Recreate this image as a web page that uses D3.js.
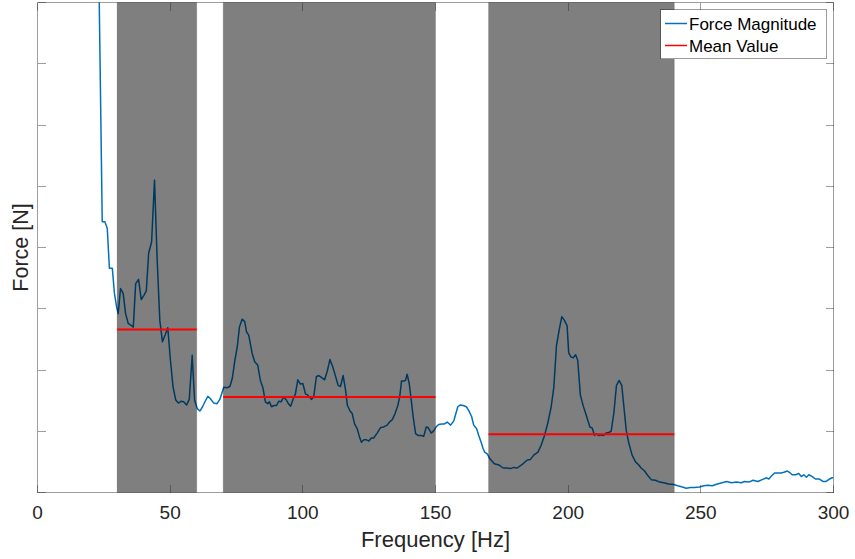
<!DOCTYPE html>
<html>
<head>
<meta charset="utf-8">
<script src="https://cdn.jsdelivr.net/npm/d3@7"></script>
<style>
	body { margin: 0; background: #fff; }
	svg { display: block; font-family: 'Liberation Sans', Arial, sans-serif; }
</style>
</head>
<body>
<svg id="chart" width="855" height="559"></svg>
<script>
'use strict';

// spectrum (Hz, N)
const freq = [22.8,
	24.4, 25.4, 26.3, 27.1, 28.2, 29.0, 29.8, 30.4, 31.3, 32.3,
	33.2, 34.2, 35.3, 36.1, 37.0, 38.1, 39.1, 40.1, 41.0, 41.9,
	43.0, 44.1, 45.1, 46.1, 47.1, 48.1, 49.1, 50.1, 51.1, 52.1,
	53.1, 54.2, 55.1, 56.2, 57.2, 58.3, 59.2, 60.2, 61.2, 62.2,
	63.2, 64.2, 65.2, 66.4, 67.7, 68.7,
	70.2, 71.5, 72.5, 73.4, 74.4, 75.3, 76.1, 77.1, 78.1, 78.8,
	79.6, 80.9, 81.9, 83.0, 84.0, 84.9, 85.9, 86.8, 87.4, 88.2,
	89.1, 90.1, 90.9, 91.8, 92.8, 93.8, 94.7, 95.4, 96.4, 97.2,
	98.1, 99.1, 100.0, 101.0, 101.9, 103.2, 104.1, 105.1, 106.0, 107.0,
	108.2, 109.2, 110.2, 111.3, 112.3, 113.3, 114.2, 115.2,
	116.1, 116.8, 117.8, 118.6, 119.5, 120.5, 121.4, 122.1, 123.0, 124.0,
	124.9, 125.8, 126.7, 128.0, 129.3, 130.5, 131.8, 132.7, 133.7, 134.7,
	135.8, 136.5, 137.2, 138.1, 138.7, 139.3, 140.1, 140.8, 141.6, 142.5,
	143.5, 144.6, 145.6, 146.5, 147.2, 148.4, 149.4, 150.4, 151.2, 152.3,
	153.4, 154.4, 155.7, 156.9, 157.5, 158.4, 159.4, 160.4, 161.6, 162.5,
	163.6, 164.4, 165.5, 166.3, 167.2, 168.0,
	168.5, 169.5, 170.5, 172.2, 173.9, 175.5, 177.0, 178.3, 179.5, 180.8,
	182.7, 184.6, 185.8, 187.0, 188.6, 189.8, 191.1, 192.3, 193.6, 194.6,
	195.6, 196.6, 197.6, 198.6, 199.6, 200.2, 201.1, 201.9, 202.8, 203.6,
	204.6, 205.7, 206.6, 207.4, 208.2, 209.1, 209.9, 210.6, 211.5, 212.4,
	213.4, 214.3, 215.3, 216.2, 217.2, 218.2, 219.2, 220.2, 221.0, 221.9,
	222.9, 224.1, 225.4, 226.6,
	227.5, 228.8, 229.8, 231.3, 232.9, 234.5, 236.0, 237.9, 239.8, 241.3,
	243.0, 244.5, 246.1, 247.6, 249.5, 251.1, 252.6, 254.3, 256.2, 258.0,
	259.7, 261.6, 263.4, 265.2, 266.5, 268.1, 269.7, 271.5, 273.1, 274.8,
	275.6, 276.9, 277.8, 279.0, 280.3, 281.3, 282.6, 283.4, 284.4, 285.7,
	286.9, 287.9, 288.8, 289.8, 290.7, 292.0, 293.2, 294.7, 296.0, 297.2,
	298.5, 299.5, 300.0];

const force = [9.5,
	4.42, 4.42, 4.31, 3.66, 3.66, 3.25, 3.03, 2.92, 3.33, 3.25,
	2.92, 2.76, 2.73, 2.70, 3.41, 3.48, 3.15, 3.22, 3.29, 3.91,
	4.09, 5.10, 3.80, 2.81, 2.46, 2.57, 2.69, 2.16, 1.72, 1.51,
	1.46, 1.49, 1.48, 1.43, 1.52, 2.24, 1.51, 1.37, 1.33, 1.40,
	1.49, 1.57, 1.53, 1.46, 1.45, 1.52,
	1.72, 1.71, 1.73, 1.86, 2.16, 2.38, 2.70, 2.83, 2.79, 2.62,
	2.57, 2.27, 2.13, 2.08, 1.83, 1.72, 1.48, 1.45, 1.48, 1.40,
	1.42, 1.42, 1.49, 1.48, 1.56, 1.51, 1.44, 1.41, 1.53, 1.61,
	1.84, 1.77, 1.78, 1.61, 1.59, 1.52, 1.56, 1.89, 1.91, 1.88,
	1.84, 1.98, 2.17, 2.05, 1.90, 1.75, 1.73, 1.91,
	1.67, 1.42, 1.33, 1.29, 1.12, 1.04, 0.90, 0.82, 0.86, 0.86,
	0.84, 0.89, 0.89, 0.97, 1.06, 1.07, 1.10, 1.15, 1.19, 1.28,
	1.42, 1.56, 1.82, 1.82, 1.83, 1.93, 1.78, 1.53, 1.23, 0.96,
	0.93, 0.93, 0.92, 1.07, 1.06, 0.97, 1.01, 1.08, 1.11, 1.12,
	1.12, 1.15, 1.10, 1.17, 1.26, 1.40, 1.43, 1.42, 1.40, 1.34,
	1.24, 1.10, 1.04, 0.93, 0.82, 0.71,
	0.66, 0.63, 0.55, 0.47, 0.45, 0.40, 0.40, 0.39, 0.41, 0.40,
	0.46, 0.53, 0.54, 0.61, 0.66, 0.77, 0.93, 1.13, 1.40, 1.72,
	2.40, 2.65, 2.87, 2.81, 2.72, 2.28, 2.21, 2.20, 2.25, 2.16,
	1.59, 1.41, 1.29, 1.18, 1.07, 1.05, 0.93, 0.96, 0.93, 0.94,
	0.93, 0.97, 0.98, 1.00, 1.29, 1.75, 1.83, 1.75, 1.40, 1.01,
	0.80, 0.61, 0.50, 0.45,
	0.40, 0.35, 0.29, 0.21, 0.20, 0.17, 0.16, 0.14, 0.13, 0.11,
	0.09, 0.07, 0.08, 0.08, 0.09, 0.11, 0.12, 0.11, 0.14, 0.16,
	0.18, 0.16, 0.17, 0.16, 0.18, 0.17, 0.20, 0.18, 0.21, 0.24,
	0.22, 0.28, 0.32, 0.32, 0.32, 0.33, 0.35, 0.33, 0.29, 0.29,
	0.31, 0.26, 0.29, 0.25, 0.29, 0.26, 0.22, 0.22, 0.18, 0.18,
	0.22, 0.24, 0.24];

// shaded bands and their mean force
const bandStart = [30, 70, 170];
const bandEnd = [60, 150, 240];
const bandMean = [2.66, 1.56, 0.95];

const xTicks = [0, 50, 100, 150, 200, 250, 300];
const yTicks = [0, 1, 2, 3, 4, 5, 6, 7, 8];
const legendLabels = ['Force Magnitude', 'Mean Value'];
const legendColors = ['#0072bd', '#ff0000'];

const svg = d3.select('#chart');
const margin = {top: 2.5, right: 21.5, bottom: 66.5, left: 37.5};
const width = 855, height = 559;

const x = d3.scaleLinear()
	.domain([0, 300])
	.range([margin.left, width - margin.right]);
const y = d3.scaleLinear()
	.domain([0, 8])
	.range([height - margin.bottom, margin.top]);

svg.append('defs').append('clipPath')
	.attr('id', 'plotClip')
	.append('rect')
		.attr('x', x(0))
		.attr('y', y(8))
		.attr('width', x(300) - x(0))
		.attr('height', y(0) - y(8));

const rows = freq.map((f, i) => ({f, v: force[i]}));
const bands = bandStart.map((s, i) => ({s, e: bandEnd[i], m: bandMean[i]}));

// force spectrum
svg.append('path')
	.datum(rows)
	.attr('clip-path', 'url(#plotClip)')
	.attr('fill', 'none')
	.attr('stroke', legendColors[0])
	.attr('stroke-width', 1.5)
	.attr('stroke-linejoin', 'round')
	.attr('d', d3.line().x(d => x(d.f)).y(d => y(d.v)));

// half transparent bands on top of the line
svg.append('g').selectAll('rect')
	.data(bands)
	.join('rect')
		.attr('x', d => x(d.s))
		.attr('y', y(8))
		.attr('width', d => x(d.e) - x(d.s))
		.attr('height', y(0) - y(8))
		.attr('fill', '#000')
		.attr('fill-opacity', 0.5)
		.attr('stroke', '#000')
		.attr('stroke-opacity', 0.15)
		.attr('stroke-width', 1);

svg.append('g').selectAll('line')
	.data(bands)
	.join('line')
		.attr('x1', d => x(d.s))
		.attr('x2', d => x(d.e))
		.attr('y1', d => y(d.m))
		.attr('y2', d => y(d.m))
		.attr('stroke', legendColors[1])
		.attr('stroke-width', 2);

// axes box and inward ticks
const axisStyle = sel => sel
	.attr('stroke', '#262626')
	.attr('stroke-opacity', 0.45)
	.attr('stroke-width', 1)
	.attr('shape-rendering', 'crispEdges');

svg.append('rect')
	.attr('x', x(0))
	.attr('y', y(8))
	.attr('width', x(300) - x(0))
	.attr('height', y(0) - y(8))
	.attr('fill', 'none')
	.call(axisStyle);

const tickLen = 8;
const ax = svg.append('g');
ax.selectAll('line.xb')
	.data(xTicks)
	.join('line')
		.attr('class', 'xb')
		.attr('x1', d => x(d)).attr('x2', d => x(d))
		.attr('y1', y(0)).attr('y2', y(0) - tickLen)
		.call(axisStyle);
ax.selectAll('line.xt')
	.data(xTicks)
	.join('line')
		.attr('class', 'xt')
		.attr('x1', d => x(d)).attr('x2', d => x(d))
		.attr('y1', y(8)).attr('y2', y(8) + tickLen)
		.call(axisStyle);
ax.selectAll('line.yl')
	.data(yTicks)
	.join('line')
		.attr('class', 'yl')
		.attr('x1', x(0)).attr('x2', x(0) + tickLen)
		.attr('y1', d => y(d)).attr('y2', d => y(d))
		.call(axisStyle);
ax.selectAll('line.yr')
	.data(yTicks)
	.join('line')
		.attr('class', 'yr')
		.attr('x1', x(300)).attr('x2', x(300) - tickLen)
		.attr('y1', d => y(d)).attr('y2', d => y(d))
		.call(axisStyle);

ax.selectAll('text')
	.data(xTicks)
	.join('text')
		.attr('x', d => x(d))
		.attr('y', 519)
		.attr('text-anchor', 'middle')
		.attr('font-size', 19)
		.attr('fill', '#262626')
		.text(d => d);

svg.append('text')
	.attr('x', (x(0) + x(300)) / 2)
	.attr('y', 547)
	.attr('text-anchor', 'middle')
	.attr('font-size', 22)
	.attr('fill', '#262626')
	.text('Frequency [Hz]');

svg.append('text')
	.attr('transform', 'translate(28,' + ((y(0) + y(8)) / 2) + ') rotate(-90)')
	.attr('text-anchor', 'middle')
	.attr('font-size', 21.5)
	.attr('fill', '#262626')
	.text('Force [N]');

// legend
const legend = svg.append('g').attr('transform', 'translate(660.5,9.5)');
legend.append('rect')
	.attr('width', 166)
	.attr('height', 49)
	.attr('fill', '#fff')
	.call(axisStyle);
legendLabels.forEach((lab, i) => {
	const ly = 14 + i * 22;
	legend.append('line')
		.attr('x1', 4.5).attr('x2', 26.5)
		.attr('y1', ly).attr('y2', ly)
		.attr('stroke', legendColors[i])
		.attr('stroke-width', 1.5);
	legend.append('text')
		.attr('x', 28.5)
		.attr('y', ly + 6)
		.attr('font-size', 17)
		.attr('fill', '#000')
		.text(lab);
});
</script>
</body>
</html>
